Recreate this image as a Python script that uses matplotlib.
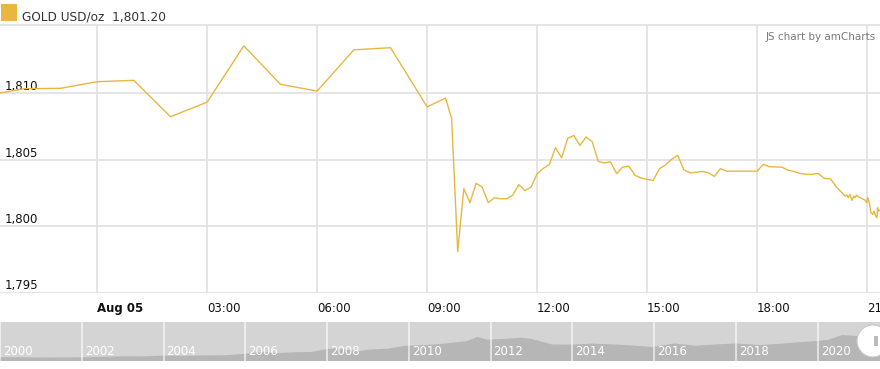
import pandas as pd
import matplotlib
matplotlib.use("Agg")
import matplotlib.pyplot as plt
from matplotlib.patches import Rectangle, Ellipse

# ---- data ----
times = ['2021-08-04 21:00', '2021-08-04 22:00', '2021-08-04 23:00',
         '2021-08-05 00:00', '2021-08-05 01:00', '2021-08-05 02:00', '2021-08-05 03:00',
         '2021-08-05 04:00', '2021-08-05 05:00', '2021-08-05 06:00', '2021-08-05 07:00',
         '2021-08-05 08:00', '2021-08-05 09:00', '2021-08-05 09:30', '2021-08-05 09:40',
         '2021-08-05 09:50', '2021-08-05 10:00', '2021-08-05 10:10', '2021-08-05 10:20',
         '2021-08-05 10:30', '2021-08-05 10:40', '2021-08-05 10:50', '2021-08-05 11:00',
         '2021-08-05 11:10', '2021-08-05 11:20', '2021-08-05 11:30', '2021-08-05 11:40',
         '2021-08-05 11:50', '2021-08-05 12:00', '2021-08-05 12:10', '2021-08-05 12:20',
         '2021-08-05 12:30', '2021-08-05 12:40', '2021-08-05 12:50', '2021-08-05 13:00',
         '2021-08-05 13:10', '2021-08-05 13:20', '2021-08-05 13:30', '2021-08-05 13:40',
         '2021-08-05 13:50', '2021-08-05 14:00', '2021-08-05 14:10', '2021-08-05 14:20',
         '2021-08-05 14:30', '2021-08-05 14:40', '2021-08-05 14:50', '2021-08-05 15:00',
         '2021-08-05 15:10', '2021-08-05 15:20', '2021-08-05 15:30', '2021-08-05 15:40',
         '2021-08-05 15:50', '2021-08-05 16:00', '2021-08-05 16:10', '2021-08-05 16:20',
         '2021-08-05 16:30', '2021-08-05 16:40', '2021-08-05 16:50', '2021-08-05 17:00',
         '2021-08-05 17:10', '2021-08-05 17:20', '2021-08-05 17:30', '2021-08-05 17:40',
         '2021-08-05 17:50', '2021-08-05 18:00', '2021-08-05 18:10', '2021-08-05 18:20',
         '2021-08-05 18:30', '2021-08-05 18:40', '2021-08-05 18:50', '2021-08-05 19:00',
         '2021-08-05 19:10', '2021-08-05 19:20', '2021-08-05 19:30', '2021-08-05 19:40',
         '2021-08-05 19:50', '2021-08-05 20:00', '2021-08-05 20:10', '2021-08-05 20:20',
         '2021-08-05 20:24', '2021-08-05 20:27', '2021-08-05 20:29', '2021-08-05 20:32',
         '2021-08-05 20:35', '2021-08-05 20:38', '2021-08-05 20:40', '2021-08-05 20:43',
         '2021-08-05 20:46', '2021-08-05 20:48', '2021-08-05 20:51', '2021-08-05 20:54',
         '2021-08-05 20:57', '2021-08-05 20:59', '2021-08-05 21:01', '2021-08-05 21:04',
         '2021-08-05 21:06', '2021-08-05 21:09', '2021-08-05 21:11', '2021-08-05 21:14',
         '2021-08-05 21:16', '2021-08-05 21:17', '2021-08-05 21:19', '2021-08-05 21:21']
prices = [1809.85, 1810.35, 1810.38,
          1810.88, 1810.98, 1808.24, 1809.34,
          1813.58, 1810.68, 1810.17, 1813.28,
          1813.44, 1808.98, 1809.65, 1808.12,
          1798.08, 1802.82, 1801.76, 1803.22,
          1802.94, 1801.76, 1802.14, 1802.06,
          1802.06, 1802.33, 1803.12, 1802.67,
          1802.94, 1803.95, 1804.35, 1804.65,
          1805.91, 1805.15, 1806.61, 1806.83,
          1806.08, 1806.71, 1806.36, 1804.88,
          1804.75, 1804.85, 1803.95, 1804.45,
          1804.52, 1803.84, 1803.62, 1803.52,
          1803.44, 1804.33, 1804.60, 1805.03,
          1805.33, 1804.24, 1804.02, 1804.05,
          1804.12, 1804.02, 1803.75, 1804.33,
          1804.14, 1804.14, 1804.14, 1804.14,
          1804.14, 1804.14, 1804.65, 1804.48,
          1804.45, 1804.45, 1804.22, 1804.12,
          1803.97, 1803.90, 1803.90, 1803.97,
          1803.59, 1803.57, 1802.92, 1802.46,
          1802.26, 1802.34, 1802.14, 1802.39,
          1801.94, 1802.26, 1802.14, 1802.34,
          1802.19, 1802.14, 1802.09, 1802.01,
          1801.94, 1801.76, 1802.14, 1801.64,
          1801.01, 1800.88, 1801.13, 1800.75,
          1800.63, 1801.39, 1801.13, 1801.20]

y_ticks = [1795, 1800, 1805, 1810]
x_ticks = ['2021-08-05 00:00', '2021-08-05 03:00', '2021-08-05 06:00', '2021-08-05 09:00',
           '2021-08-05 12:00', '2021-08-05 15:00', '2021-08-05 18:00', '2021-08-05 21:00']
x_labels = ['Aug 05', '03:00', '06:00', '09:00', '12:00', '15:00', '18:00', '21:00']
x_range = ['2021-08-04 21:21', '2021-08-05 21:21']

# long-term history shown in the scrollbar (approx.)
hist_years = [2000.0, 2000.5, 2001.0, 2001.5, 2002.0, 2002.5, 2003.0, 2003.5, 2004.0, 2004.5,
              2005.0, 2005.5, 2006.0, 2006.4, 2006.8, 2007.2, 2007.6, 2008.0, 2008.2, 2008.8,
              2009.0, 2009.5, 2009.9, 2010.5, 2011.0, 2011.4, 2011.67, 2011.9, 2012.3, 2012.75,
              2013.0, 2013.5, 2014.0, 2014.5, 2015.0, 2015.5, 2015.95, 2016.5, 2017.0, 2017.5,
              2018.0, 2018.6, 2019.0, 2019.5, 2020.0, 2020.25, 2020.6, 2021.0, 2021.2, 2021.4,
              2021.6]
hist_prices = [285, 285, 265, 270, 282, 315, 356, 350, 410, 395,
               425, 430, 550, 680, 600, 660, 680, 900, 960, 750,
               860, 935, 1150, 1220, 1360, 1500, 1820, 1620, 1660, 1760,
               1670, 1250, 1240, 1320, 1250, 1170, 1060, 1330, 1150, 1250,
               1330, 1200, 1290, 1410, 1520, 1600, 1970, 1880, 1700, 1880,
               1800]
year_ticks = [2000, 2002, 2004, 2006, 2008, 2010, 2012, 2014, 2016, 2018, 2020]

gold = '#e8b73f'
grid_col = '#e3e3e3'
W, H = 880.0, 369.0

plt.rcParams['font.family'] = ['DejaVu Sans']

fig = plt.figure(figsize=(8.8, 3.69), dpi=100)
fig.patch.set_facecolor('white')

# ---- main chart ----
top_px, bot_px = 25.0, 292.5
ax = fig.add_axes([0, 1 - bot_px / H, 1, (bot_px - top_px) / H])
t = pd.to_datetime(times)
ax.plot(t, prices, color=gold, lw=1.0, zorder=3)
ax.set_xlim(pd.to_datetime(x_range[0]), pd.to_datetime(x_range[1]))
ax.set_ylim(1795, 1815.15)

ax.set_xticks(pd.to_datetime(x_ticks))
ax.set_xticklabels(x_labels)
ax.set_yticks(y_ticks)
ax.set_yticklabels(['{:,}'.format(v) for v in y_ticks])
ax.tick_params(axis='x', length=0, pad=6.8, labelsize=8.5, labelcolor='#111111')
ax.tick_params(axis='y', length=0, pad=-3.6, labelsize=8.5, labelcolor='#111111')
for lab in ax.get_xticklabels():
    lab.set_ha('left')
ax.get_xticklabels()[0].set_fontweight('bold')
for lab in ax.get_yticklabels():
    lab.set_ha('left')
    lab.set_va('bottom')

ax.grid(True, color=grid_col, lw=1.3, zorder=0)
for s in ['left', 'right', 'bottom']:
    ax.spines[s].set_visible(False)
ax.spines['top'].set_color(grid_col)
ax.spines['top'].set_linewidth(1.3)
ax.set_facecolor('white')

# ---- header ----
fig.patches.append(Rectangle((1 / W, 1 - 21 / H), 16 / W, 17 / H, transform=fig.transFigure,
                             facecolor=gold, edgecolor='none'))
fig.text(22 / W, 1 - 20 / H, 'GOLD USD/oz  1,801.20', fontsize=8.7, color='#333333',
         va='baseline', ha='left')
fig.text(876 / W, 1 - 37 / H, 'JS chart by amCharts', fontsize=7.5, color='#7a7a7a',
         va='center', ha='right')

# ---- scrollbar ----
s_top, s_bot = 322.0, 361.0
ax2 = fig.add_axes([0, 1 - s_bot / H, 1, (s_bot - s_top) / H])
ax2.set_facecolor('#d4d4d4')
ax2.fill_between(hist_years, hist_prices, 0, color='#b6b6b6', lw=0)
ax2.set_xlim(2000, 2021.52)
ax2.set_ylim(0, 2950)
for yr in year_ticks:
    ax2.axvline(yr, color='white', lw=1.2, alpha=0.7)
    ax2.text(yr + 0.07, 0.24, str(yr), transform=ax2.get_xaxis_transform(),
             color='white', fontsize=8.5, ha='left', va='center')
ax2.set_xticks([])
ax2.set_yticks([])
for s in ax2.spines.values():
    s.set_visible(False)

# grip handle at the right end
fig.patches.append(Ellipse((873 / W, 1 - 341 / H), 32 / W, 32 / H, transform=fig.transFigure,
                           facecolor='white', edgecolor='#c8c8c8', lw=0.8, zorder=5))
fig.patches.append(Rectangle((874 / W, 1 - 346 / H), 4 / W, 10 / H, transform=fig.transFigure,
                             facecolor='#bbbbbb', edgecolor='none', zorder=6))

fig.savefig('out.png', dpi=100)
